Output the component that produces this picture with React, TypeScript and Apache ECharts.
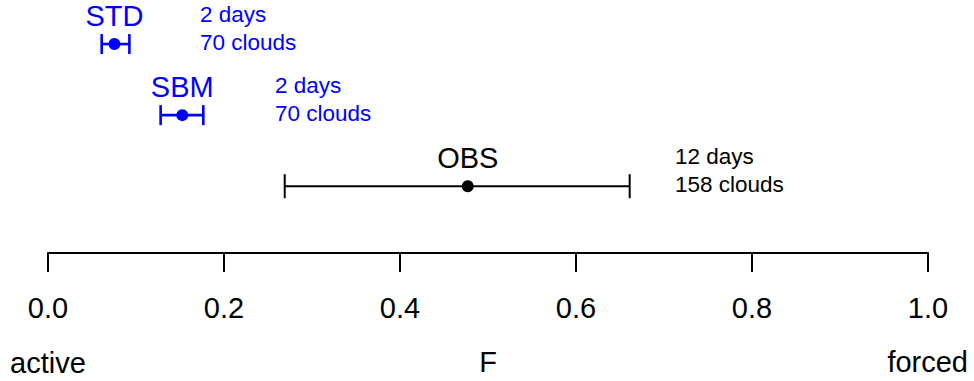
import React, { useEffect, useRef } from "react";
import * as echarts from "echarts";

// Data
const groups = ["STD", "SBM", "OBS"];
const fLow = [0.061, 0.128, 0.269];
const fMid = [0.0755, 0.1526, 0.477];
const fHigh = [0.0925, 0.1765, 0.661];
const days = [2, 2, 12];
const clouds = [70, 70, 158];
const rows = [3, 2, 1];
const groupColors = ["#0000ff", "#0000ff", "#000000"];
const tickValues = [0, 0.2, 0.4, 0.6, 0.8, 1.0];

// Layout (axis units where the note text begins)
const noteX = [0.1727, 0.258, 0.7125];

const FONT = "Liberation Sans, Arial, Helvetica, sans-serif";

export default function App() {
  const ref = useRef<HTMLDivElement>(null);
  useEffect(() => {
    if (!ref.current) return;
    const chart = echarts.init(ref.current, null, { renderer: "svg" });
    const data = groups.map((g, i) => ({
      name: g,
      value: [fLow[i], fHigh[i], fMid[i], rows[i], noteX[i], i],
    }));
    chart.setOption({
      animation: false,
      backgroundColor: "#ffffff",
      grid: { left: 48, right: 46, top: 0, bottom: 128, containLabel: false },
      xAxis: {
        type: "value",
        min: 0,
        max: 1,
        interval: 0.2,
        splitLine: { show: false },
        axisLine: { show: true, onZero: false, lineStyle: { color: "#000", width: 2 } },
        axisTick: { show: true, length: 19, lineStyle: { color: "#000", width: 2 } },
        axisLabel: {
          show: true,
          margin: 40,
          fontSize: 29,
          color: "#000",
          fontFamily: FONT,
          formatter: (v: number) => (tickValues.some((t) => Math.abs(t - v) < 1e-9) ? v.toFixed(1) : ""),
        },
      },
      yAxis: {
        type: "value",
        min: 0.06,
        max: 3.62,
        show: false,
      },
      graphic: [
        {
          type: "text",
          left: 10,
          top: 348,
          style: { text: "active", fontSize: 29, fontFamily: FONT, fill: "#000" },
        },
        {
          type: "text",
          x: 488,
          y: 362,
          style: { text: "F", fontSize: 29, fontFamily: FONT, fill: "#000", textAlign: "center", textVerticalAlign: "middle" },
        },
        {
          type: "text",
          x: 968,
          y: 362,
          style: { text: "forced", fontSize: 29, fontFamily: FONT, fill: "#000", textAlign: "right", textVerticalAlign: "middle" },
        },
      ],
      series: [
        {
          type: "custom",
          data,
          encode: { x: [0, 1, 2], y: 3 },
          renderItem: (params: any, api: any) => {
            const lo = api.coord([api.value(0), api.value(3)]);
            const hi = api.coord([api.value(1), api.value(3)]);
            const mid = api.coord([api.value(2), api.value(3)]);
            const note = api.coord([api.value(4), api.value(3)]);
            const idx = api.value(5);
            const color = groupColors[idx];
            const isObs = color === "#000000";
            const lw = isObs ? 2 : 2.6;
            const cap = isObs ? 12 : 10;
            const y = mid[1];
            return {
              type: "group",
              children: [
                { type: "line", shape: { x1: lo[0], y1: y, x2: hi[0], y2: y }, style: { stroke: color, lineWidth: lw } },
                { type: "line", shape: { x1: lo[0], y1: y - cap, x2: lo[0], y2: y + cap }, style: { stroke: color, lineWidth: lw } },
                { type: "line", shape: { x1: hi[0], y1: y - cap, x2: hi[0], y2: y + cap }, style: { stroke: color, lineWidth: lw } },
                { type: "circle", shape: { cx: mid[0], cy: y, r: 6 }, style: { fill: color } },
                {
                  type: "text",
                  x: mid[0],
                  y: y - 28,
                  style: {
                    text: groups[idx],
                    fontSize: 29,
                    fontFamily: FONT,
                    fill: color,
                    textAlign: "center",
                    textVerticalAlign: "middle",
                  },
                },
                {
                  type: "text",
                  x: note[0],
                  y: y - 16,
                  style: {
                    text: `${days[idx]} days\n${clouds[idx]} clouds`,
                    fontSize: 22.5,
                    lineHeight: 28,
                    fontFamily: FONT,
                    fill: color,
                    textAlign: "left",
                    textVerticalAlign: "middle",
                  },
                },
              ],
            };
          },
        },
      ],
    });
    return () => chart.dispose();
  }, []);
  return (
    <div
      ref={ref}
      style={{ position: "fixed", left: 0, top: 0, width: 974, height: 381, background: "#fff" }}
    />
  );
}
